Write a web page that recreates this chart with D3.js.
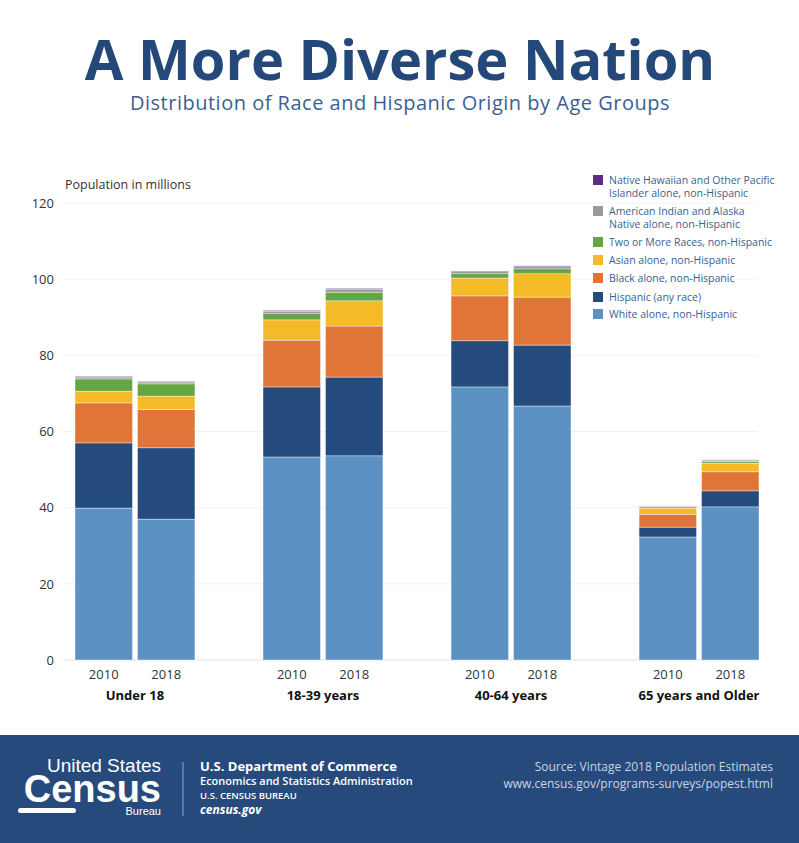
<!DOCTYPE html>
<html lang="en">
<head>
<meta charset="UTF-8">
<script src="https://d3js.org/d3.v7.min.js"></script>
<style>
  body { margin: 0; background: #fff; font-family: 'Open Sans', Arial, sans-serif; }
  svg { display: block; }
</style>
</head>
<body>
<svg id="chart" width="799" height="843"></svg>
<script>
// Data (millions)
const groups = ["Under 18", "18-39 years", "40-64 years", "65 years and Older"];
const years = ["2010", "2018"];
const seriesNames = ["White alone, non-Hispanic", "Hispanic (any race)", "Black alone, non-Hispanic",
  "Asian alone, non-Hispanic", "Two or More Races, non-Hispanic",
  "American Indian and Alaska Native alone, non-Hispanic",
  "Native Hawaiian and Other Pacific Islander alone, non-Hispanic"];
const colors = ["#5b92c3", "#254a7d", "#e07537", "#f4ba27", "#66a544", "#9a9a9a", "#5a2d82"];
// one array per series, order: U18 2010, U18 2018, 18-39 2010, 18-39 2018, 40-64 2010, 40-64 2018, 65+ 2010, 65+ 2018
const white    = [39.9, 37.0, 53.3, 53.6, 71.7, 66.7, 32.3, 40.2];
const hispanic = [17.1, 18.7, 18.4, 20.7, 12.1, 16.0, 2.6, 4.2];
const black    = [10.5, 10.0, 12.3, 13.4, 11.8, 12.6, 3.4, 5.0];
const asian    = [3.1, 3.6, 5.3, 6.6, 4.7, 6.1, 1.6, 2.3];
const twoPlus  = [3.2, 3.2, 1.6, 2.3, 1.1, 1.3, 0.3, 0.5];
const aian     = [0.5, 0.5, 0.7, 0.8, 0.6, 0.6, 0.2, 0.3];
const nhpi     = [0.2, 0.2, 0.2, 0.2, 0.15, 0.2, 0.05, 0.05];
const yTicks = [0, 20, 40, 60, 80, 100, 120];
const legendLines = [
  ["Native Hawaiian and Other Pacific", "Islander alone, non-Hispanic"],
  ["American Indian and Alaska", "Native alone, non-Hispanic"],
  ["Two or More Races, non-Hispanic"],
  ["Asian alone, non-Hispanic"],
  ["Black alone, non-Hispanic"],
  ["Hispanic (any race)"],
  ["White alone, non-Hispanic"]
];
const legendColors = [colors[6], colors[5], colors[4], colors[3], colors[2], colors[1], colors[0]];

const seriesValues = [white, hispanic, black, asian, twoPlus, aian, nhpi];
const rows = [];
groups.forEach((g, gi) => years.forEach((y, yi) => {
  const r = { group: g, year: y };
  seriesNames.forEach((s, si) => r[s] = seriesValues[si][gi * 2 + yi]);
  rows.push(r);
}));

const svg = d3.select("#chart");
const navy = "#24487a";

svg.append("text").attr("x", 400).attr("y", 80).attr("text-anchor", "middle")
  .attr("font-family", "Open Sans, sans-serif").attr("font-weight", 700).attr("font-size", 56)
  .attr("fill", navy).text("A More Diverse Nation");
svg.append("text").attr("x", 400).attr("y", 110).attr("text-anchor", "middle")
  .attr("font-size", 20).attr("fill", "#3a5f94").attr("letter-spacing", 0.5)
  .text("Distribution of Race and Hispanic Origin by Age Groups");

const y = d3.scaleLinear().domain([0, 120]).range([660, 203]);
const x0 = d3.scaleBand().domain(groups).range([75, 759]).paddingInner(0.362).paddingOuter(0);
const x1 = d3.scaleBand().domain(years).range([0, x0.bandwidth()]).paddingInner(0.08);

// grid
svg.append("g").selectAll("line").data(yTicks).join("line")
  .attr("x1", 64).attr("x2", 757).attr("y1", d => y(d)).attr("y2", d => y(d))
  .attr("stroke", d => d === 0 ? "#dfe3e8" : "#f0f2f4").attr("stroke-width", 1);

const yAxis = svg.append("g").attr("transform", "translate(54,0)")
  .call(d3.axisLeft(y).tickValues(yTicks).tickSize(0).tickPadding(0));
yAxis.select(".domain").remove();
yAxis.selectAll("text").attr("font-size", 13).attr("fill", "#333").attr("font-family", "Open Sans, sans-serif");

svg.append("text").attr("x", 65).attr("y", 189).attr("font-size", 12.5).attr("fill", "#333")
  .text("Population in millions");

const stack = d3.stack().keys(seriesNames)(rows);
svg.append("g").selectAll("g").data(stack).join("g")
  .attr("fill", (d, i) => colors[i])
  .selectAll("rect").data(d => d).join("rect")
  .attr("x", d => x0(d.data.group) + x1(d.data.year))
  .attr("width", x1.bandwidth())
  .attr("y", d => y(d[1]))
  .attr("height", d => Math.max(0, y(d[0]) - y(d[1])))
  .attr("stroke", "#fff").attr("stroke-width", 0.4);

// x labels
const xl = svg.append("g");
rows.forEach(r => {
  xl.append("text").attr("x", x0(r.group) + x1(r.year) + x1.bandwidth() / 2).attr("y", 679)
    .attr("text-anchor", "middle").attr("font-size", 13).attr("fill", "#333").text(r.year);
});
groups.forEach(g => {
  xl.append("text").attr("x", x0(g) + x0.bandwidth() / 2).attr("y", 700)
    .attr("text-anchor", "middle").attr("font-size", 13).attr("font-weight", 700).attr("fill", "#111").text(g);
});

// legend
const lg = svg.append("g");
const legendY = [180, 211, 242, 260, 278, 297, 314];
legendLines.forEach((lines, i) => {
  lg.append("rect").attr("x", 593).attr("y", legendY[i] - 5).attr("width", 10).attr("height", 10).attr("fill", legendColors[i]);
  lines.forEach((t, j) => {
    lg.append("text").attr("x", 609).attr("y", legendY[i] + 4 + j * 13).attr("font-size", 10.5)
      .attr("fill", "#3a5f94").text(t);
  });
});

// footer
const f = svg.append("g");
f.append("rect").attr("x", 0).attr("y", 735).attr("width", 799).attr("height", 108).attr("fill", "#264a7c");
f.append("text").attr("x", 161).attr("y", 772).attr("text-anchor", "end").attr("font-family", "Liberation Sans Narrow, sans-serif")
  .attr("font-size", 19).attr("fill", "#fff").text("United States");
f.append("text").attr("x", 161).attr("y", 802).attr("text-anchor", "end").attr("font-family", "Liberation Sans Narrow, sans-serif")
  .attr("font-weight", 700).attr("font-size", 38).attr("fill", "#fff").text("Census");
f.append("rect").attr("x", 18).attr("y", 808).attr("width", 58).attr("height", 5).attr("rx", 2.5).attr("fill", "#fff");
f.append("text").attr("x", 161).attr("y", 815).attr("text-anchor", "end").attr("font-family", "Liberation Sans Narrow, sans-serif")
  .attr("font-size", 11).attr("fill", "#fff").text("Bureau");
f.append("line").attr("x1", 183).attr("x2", 183).attr("y1", 762).attr("y2", 816).attr("stroke", "#8fa6c6");
const ft = [["U.S. Department of Commerce", 13, 700, 771, "normal"],
  ["Economics and Statistics Administration", 11, 600, 785, "normal"],
  ["U.S. CENSUS BUREAU", 9.5, 600, 799, "normal"],
  ["census.gov", 12, 700, 814, "italic"]];
ft.forEach(([t, s, w, yy, st]) => f.append("text").attr("x", 200).attr("y", yy).attr("font-size", s)
  .attr("font-weight", w).attr("font-style", st).attr("fill", "#fff").text(t));
f.append("text").attr("x", 773).attr("y", 771).attr("text-anchor", "end").attr("font-size", 12).attr("fill", "#c9d4e4")
  .text("Source: Vintage 2018 Population Estimates");
f.append("text").attr("x", 773).attr("y", 788).attr("text-anchor", "end").attr("font-size", 12).attr("fill", "#c9d4e4")
  .text("www.census.gov/programs-surveys/popest.html");
</script>
</body>
</html>
